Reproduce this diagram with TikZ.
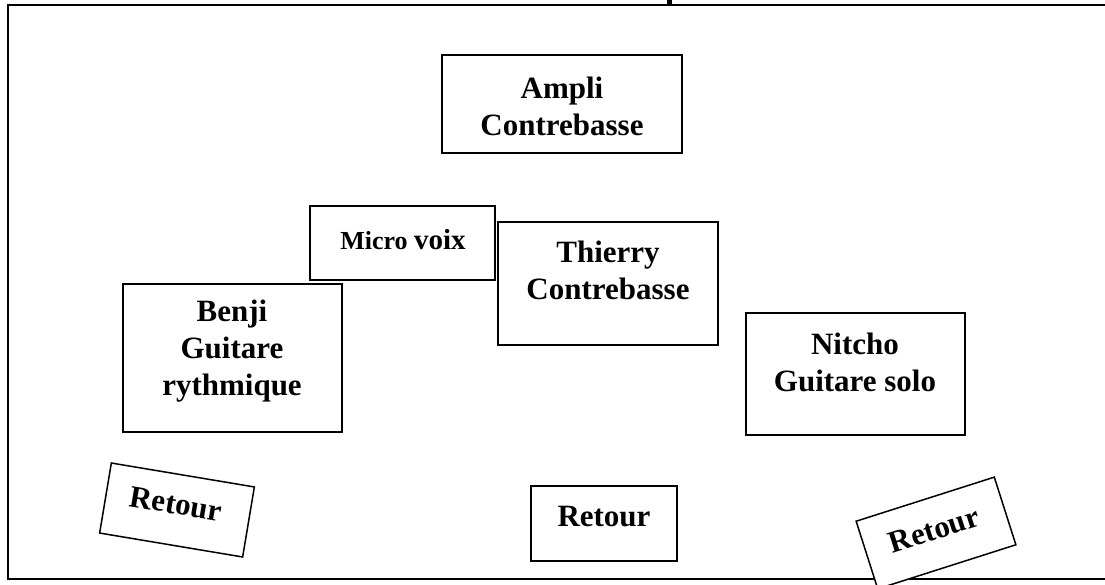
\documentclass[tikz,border=0pt]{standalone}
\usepackage{fontspec}
\setmainfont{Liberation Serif}
\begin{document}
\begin{tikzpicture}[x=1pt,y=-1pt,
  box/.style={draw=black,line width=2pt,fill=white,inner sep=0pt},
  tbox/.style={draw=black,line width=1.5pt,fill=white,inner sep=0pt,minimum width=145pt,minimum height=71pt},
  lbl/.style={align=center,inner sep=0pt,font=\bfseries\fontsize{31}{37}\selectfont}]
\useasboundingbox (0,0) rectangle (1105,585);
% frame (right side open)
\draw[line width=2.5pt] (1106,5) -- (8,5) -- (8,579) -- (1106,579);
% cut-off title fragment
\fill (667,0) rectangle (672,4);
% boxes
\node[box,minimum width=240pt,minimum height=98pt] (ampli) at (562,104) {};
\node[lbl] (amplit) at (562,106) {Ampli\\Contrebasse};
\node[box,minimum width=185pt,minimum height=74pt] (micro) at (402.5,243) {};
\node[inner sep=0pt,font=\bfseries] (microt) at (403,240) {\fontsize{26}{30}\selectfont Micro \fontsize{29}{30}\selectfont voix};
\node[box,minimum width=220pt,minimum height=123pt] (thierry) at (608,283.5) {};
\node[lbl] (thierryt) at (608,270) {Thierry\\Contrebasse};
\node[box,minimum width=219pt,minimum height=148pt] (benji) at (232.5,358) {};
\node[lbl] (benjit) at (232,351) {Benji\\Guitare\\rythmique};
\node[box,minimum width=219pt,minimum height=122pt] (nitcho) at (855.5,374) {};
\node[lbl] (nitchot) at (855,362) {Nitcho\\Guitare solo};
\node[box,minimum width=146pt,minimum height=75pt] (retourm) at (604,523.5) {};
\node[lbl] (retourmt) at (604,517) {Retour};
\node[tbox,rotate=-9.5] (retourl) at (177,510) {};
\node[lbl,rotate=-9.5] (retourlt) at (176,504) {Retour};
\node[tbox,rotate=17.7] (retourr) at (936,533) {};
\node[lbl,rotate=17.7] (retourrt) at (934,530) {Retour};
\end{tikzpicture}
\end{document}
